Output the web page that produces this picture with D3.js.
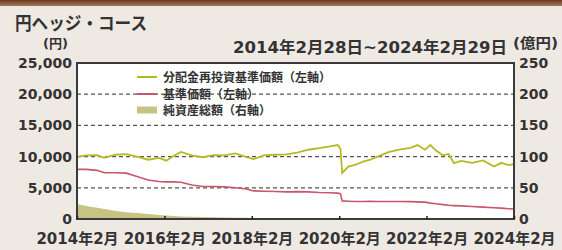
<!DOCTYPE html>
<html><head><meta charset="utf-8">
<script src="https://cdn.jsdelivr.net/npm/d3@7"></script>
<style>html,body{margin:0;padding:0;background:#efe9e3;}svg{display:block;}</style>
</head><body>
<svg id="c" width="562" height="250"></svg>
<script>
const dates = ["2014-02-28","2014-05-15","2014-08-15","2014-10-15","2015-01-15","2015-04-15","2015-07-15","2015-10-15","2016-01-15","2016-03-15","2016-05-15","2016-07-15","2016-10-15","2017-01-15","2017-04-15","2017-07-15","2017-10-15","2018-01-15","2018-03-15","2018-06-15","2018-09-15","2018-12-15","2019-03-15","2019-06-15","2019-09-15","2019-12-15","2020-02-15","2020-03-10","2020-03-25","2020-05-15","2020-07-15","2020-09-15","2020-11-15","2021-01-15","2021-04-15","2021-07-15","2021-10-15","2021-12-15","2022-02-15","2022-04-01","2022-05-15","2022-07-15","2022-09-01","2022-10-15","2022-12-15","2023-03-15","2023-06-15","2023-09-15","2023-11-15","2024-01-15","2024-02-29"];
const reinvestedNav = [9950,10200,10250,9800,10300,10400,10000,9500,9800,9350,10100,10750,10200,9900,10250,10200,10500,9900,9600,10250,10300,10350,10650,11100,11350,11650,11850,11300,7400,8400,8700,9200,9500,10000,10700,11100,11400,11850,11100,11850,11000,10200,10400,8950,9300,9000,9400,8400,9000,8650,8800];
const nav = [7950,7950,7800,7400,7400,7350,6800,6250,6000,5950,5950,5900,5450,5200,5200,5150,5000,4800,4500,4450,4400,4350,4380,4350,4250,4200,4150,4050,2900,2850,2800,2800,2820,2800,2800,2800,2780,2750,2700,2550,2450,2300,2200,2150,2100,2000,1900,1800,1750,1650,1600];
const netAssets = [24,21,18,16,13,11,9.5,8,6.5,5.5,4.8,4.2,3.6,3.2,2.8,2.5,2.2,2.0,1.8,1.6,1.5,1.4,1.3,1.2,1.1,1.0,1.0,0.9,0.8,0.8,0.8,0.7,0.7,0.7,0.7,0.6,0.6,0.6,0.6,0.6,0.6,0.5,0.5,0.5,0.5,0.5,0.5,0.5,0.5,0.5,0.5];
const xTickDates = ["2014-02-28","2016-02-29","2018-02-28","2020-02-29","2022-02-28","2024-02-29"];
const xTickLabels = ["2014年2月","2016年2月","2018年2月","2020年2月","2022年2月","2024年2月"];
const leftTicks = [0,5000,10000,15000,20000,25000];
const rightTicks = [0,50,100,150,200,250];
const legendLabels = ["分配金再投資基準価額（左軸）","基準価額（左軸）","純資産総額（右軸）"];
const titleText = "円ヘッジ・コース";
const periodText = "2014年2月28日~2024年2月29日";

const parse = d3.timeParse("%Y-%m-%d");
const D = dates.map(parse);
const svg = d3.select("#c");
const L = 77, R = 514, T = 63, B = 219;
const FONT = '"DejaVu Sans","Noto Sans CJK JP",sans-serif';

// background + top band
const grad = svg.append("defs").append("linearGradient").attr("id","band").attr("x1",0).attr("y1",0).attr("x2",0).attr("y2",1);
grad.append("stop").attr("offset","0%").attr("stop-color","#6a3a1e");
grad.append("stop").attr("offset","100%").attr("stop-color","#a67a58");
svg.append("rect").attr("width",562).attr("height",250).attr("fill","#efe9e3");
svg.append("rect").attr("width",562).attr("height",6).attr("fill","url(#band)");

const x = d3.scaleTime().domain([parse(xTickDates[0]), parse(xTickDates[5])]).range([L,R]);
const yL = d3.scaleLinear().domain([0,25000]).range([B,T]);
const yR = d3.scaleLinear().domain([0,250]).range([B,T]);

svg.append("rect").attr("x",L).attr("y",T).attr("width",R-L).attr("height",B-T).attr("fill","#ffffff");

// gridlines
svg.append("g").selectAll("line").data(leftTicks.filter(v=>v>0&&v<25000)).join("line")
  .attr("x1",L).attr("x2",R).attr("y1",d=>yL(d)).attr("y2",d=>yL(d))
  .attr("stroke","#555").attr("stroke-width",1.3).attr("stroke-dasharray","4,3");

// area
svg.append("path").datum(netAssets)
  .attr("fill","#c6c483")
  .attr("d", d3.area().x((d,i)=>x(D[i])).y0(B).y1(d=>yR(d)));

// lines
svg.append("path").datum(nav).attr("fill","none").attr("stroke","#c9566a").attr("stroke-width",1.6)
  .attr("d", d3.line().x((d,i)=>x(D[i])).y(d=>yL(d)));
svg.append("path").datum(reinvestedNav).attr("fill","none").attr("stroke","#b3bb22").attr("stroke-width",1.8)
  .attr("d", d3.line().x((d,i)=>x(D[i])).y(d=>yL(d)));

// frame
svg.append("rect").attr("x",L).attr("y",T).attr("width",R-L).attr("height",B-T).attr("fill","none").attr("stroke","#3a3a3a").attr("stroke-width",2);

// axes
const ax = svg.append("g").attr("transform",`translate(0,${B})`)
  .call(d3.axisBottom(x).tickValues(xTickDates.map(parse)).tickFormat((d,i)=>xTickLabels[i]).tickSize(-3).tickPadding(14));
ax.select(".domain").remove();
ax.selectAll("line").attr("stroke","#222").attr("stroke-width",1.5);
ax.selectAll("text").attr("font-family",FONT).attr("font-size",15).attr("fill","#333").attr("font-weight","bold");

const al = svg.append("g").attr("transform",`translate(${L},0)`)
  .call(d3.axisLeft(yL).tickValues(leftTicks).tickFormat(d3.format(",")).tickSize(0).tickPadding(5));
al.select(".domain").remove();
al.selectAll("text").attr("font-family",FONT).attr("font-size",14).attr("fill","#333").attr("font-weight","bold");

const ar = svg.append("g").attr("transform",`translate(${R},0)`)
  .call(d3.axisRight(yR).tickValues(rightTicks).tickSize(0).tickPadding(5));
ar.select(".domain").remove();
ar.selectAll("text").attr("font-family",FONT).attr("font-size",14).attr("fill","#333").attr("font-weight","bold");

// header texts
svg.append("text").attr("x",15).attr("y",30).attr("font-family",FONT).attr("font-weight","bold").attr("font-size",18)
  .attr("fill","#333").attr("textLength",132).attr("lengthAdjust","spacingAndGlyphs").text(titleText);
svg.append("text").attr("x",43).attr("y",48).attr("font-family",FONT).attr("font-weight","bold").attr("font-size",13)
  .attr("fill","#333").attr("textLength",25).attr("lengthAdjust","spacingAndGlyphs").text("(円)");
svg.append("text").attr("x",233).attr("y",53).attr("font-family",FONT).attr("font-weight","bold").attr("font-size",16)
  .attr("fill","#333").attr("textLength",274).attr("lengthAdjust","spacingAndGlyphs").text(periodText);
svg.append("text").attr("x",513).attr("y",48).attr("font-family",FONT).attr("font-weight","bold").attr("font-size",14)
  .attr("fill","#333").attr("textLength",45).attr("lengthAdjust","spacingAndGlyphs").text("(億円)");

// legend
const lg = svg.append("g");
const rows = [77, 94, 110];
lg.append("line").attr("x1",137).attr("x2",157).attr("y1",rows[0]).attr("y2",rows[0]).attr("stroke","#b3bb22").attr("stroke-width",2);
lg.append("line").attr("x1",137).attr("x2",157).attr("y1",rows[1]).attr("y2",rows[1]).attr("stroke","#c9566a").attr("stroke-width",2);
lg.append("rect").attr("x",137).attr("y",rows[2]-3.5).attr("width",20).attr("height",7).attr("fill","#c6c483");
lg.selectAll("text").data(legendLabels).join("text")
  .attr("x",163).attr("y",(d,i)=>rows[i]+4.5).attr("font-family",FONT).attr("font-size",12).attr("font-weight","bold")
  .attr("fill","#333").text(d=>d);
</script>
</body></html>
